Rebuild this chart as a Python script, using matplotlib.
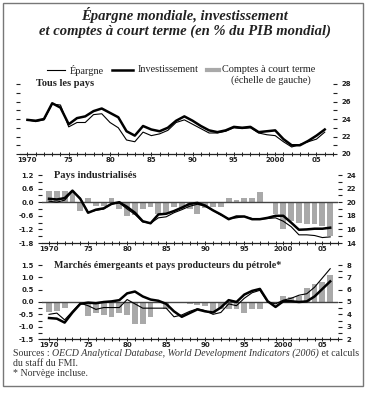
import matplotlib
matplotlib.use("Agg")
import matplotlib.pyplot as plt
from matplotlib.lines import Line2D
from matplotlib.patches import Rectangle
from matplotlib.ticker import MultipleLocator, FixedLocator
from matplotlib.font_manager import FontProperties

years = list(range(1970, 2007))

# Tous les pays (right scale, % of world GDP)
all_saving = [23.9, 23.7, 23.9, 25.7, 25.6, 23.1, 23.6, 23.6, 24.5, 24.6,
              23.6, 23.0, 21.6, 21.4, 22.5, 22.1, 22.3, 22.7, 23.6, 23.9,
              23.4, 22.9, 22.4, 22.4, 22.6, 23.0, 22.9, 23.0, 22.4, 22.2,
              22.1, 21.4, 20.8, 21.1, 21.4, 21.7, 22.5]
all_invest = [23.9, 23.8, 24.0, 25.8, 25.3, 23.4, 24.1, 24.3, 24.9, 25.2,
              24.7, 24.2, 22.6, 22.1, 23.2, 22.8, 22.6, 23.0, 23.8, 24.3,
              23.8, 23.2, 22.7, 22.5, 22.7, 23.1, 23.0, 23.1, 22.5, 22.6,
              22.7, 21.7, 21.0, 21.0, 21.5, 22.1, 22.8]

# Pays industrialisés
ind_ca = [0.5, 0.5, 0.5, 0.5, -0.4, 0.2, -0.15, -0.15, 0.2, -0.3,
          -0.6, -0.55, -0.3, -0.2, -0.5, -0.5, -0.2, -0.3, -0.3, -0.5,
          -0.25, -0.2, -0.2, 0.2, 0.1, 0.2, 0.2, 0.45, 0.0, -0.5,
          -1.2, -0.85, -0.9, -0.95, -0.95, -1.05, -1.5]
ind_saving = [20.15, 20.0, 20.3, 21.6, 20.6, 18.5, 18.8, 19.0, 19.75, 19.9,
              19.0, 18.2, 17.1, 16.9, 17.7, 17.85, 18.45, 18.9, 19.4, 19.7,
              19.4, 18.8, 18.1, 17.6, 17.7, 17.9, 17.6, 17.5, 17.6, 17.7,
              17.2, 16.4, 15.2, 15.2, 15.1, 14.8, 14.9]
ind_invest = [20.5, 20.4, 20.6, 21.7, 20.5, 18.45, 18.9, 19.1, 19.75, 20.0,
              19.3, 18.45, 17.2, 16.9, 18.2, 18.3, 18.7, 19.2, 19.75, 19.9,
              19.5, 18.8, 18.2, 17.5, 17.9, 17.9, 17.5, 17.5, 17.7, 18.0,
              18.0, 17.0, 15.95, 16.0, 16.1, 16.1, 16.25]

# Marchés émergeants et pays producteurs du pétrole
em_ca = [-0.42, -0.38, -0.23, 0.0, 0.0, -0.55, -0.45, -0.52, -0.62, -0.45,
         -0.52, -0.88, -0.88, -0.62, 0.0, -0.3, 0.0, 0.0, -0.1, -0.12,
         -0.15, -0.45, -0.3, -0.3, -0.3, -0.45, -0.3, -0.3, 0.0, 0.0,
         0.25, 0.22, 0.25, 0.55, 0.72, 0.82, 1.1]
em_saving = [4.0, 4.1, 3.55, 4.24, 4.9, 4.7, 4.4, 4.55, 4.55, 4.55,
             5.2, 4.85, 4.5, 4.5, 4.5, 4.5, 3.8, 3.95, 4.24, 4.45,
             4.3, 4.0, 4.15, 4.85, 4.7, 5.3, 5.75, 5.95, 5.0, 4.85,
             5.15, 5.3, 5.55, 5.67, 6.2, 6.95, 7.7]
em_invest = [3.7, 3.65, 3.33, 4.15, 4.85, 4.95, 4.9, 5.0, 5.05, 5.15,
             5.7, 5.85, 5.45, 5.2, 5.1, 4.85, 4.24, 3.8, 4.1, 4.4,
             4.24, 4.15, 4.55, 5.15, 5.0, 5.6, 5.9, 6.06, 5.06, 4.6,
             5.06, 5.06, 5.0, 5.05, 5.45, 6.06, 6.67]

xticks = [1970, 1975, 1980, 1985, 1990, 1995, 2000, 2005]
xticklabels = ["1970", "75", "80", "85", "90", "95", "2000", "05"]

title_lines = ["Épargne mondiale, investissement",
               "et comptes à court terme (en % du PIB mondial)"]
panel_titles = ["Tous les pays", "Pays industrialisés",
                "Marchés émergeants et pays producteurs du pétrole*"]

W, H = 370, 400
fig = plt.figure(figsize=(3.7, 4.0), dpi=100)
fig.patch.set_facecolor("white")

def fx(px):
    return px / W

def fy(py):
    return 1 - py / H

def ax_rect(l, t, r, b):
    return [fx(l), fy(b), fx(r) - fx(l), fy(t) - fy(b)]

TXT = "#222222"
BAR = "#a9a9a9"
XLIM = (1969.1, 2007.0)
tickfont = dict(family="DejaVu Sans", weight="bold", size=5)
serif = "Liberation Serif"

# border
fig.add_artist(Rectangle((fx(3), fy(386)), fx(360), (386 - 3) / H,
                         transform=fig.transFigure, fill=False,
                         edgecolor="#777777", lw=1.0))

# title
fig.text(0.5, fy(15), title_lines[0], ha="center", va="center",
         family=serif, style="italic", weight="bold", size=10.5, color=TXT)
fig.text(0.5, fy(31), title_lines[1], ha="center", va="center",
         family=serif, style="italic", weight="bold", size=10.5, color=TXT)

def style_xaxis(ax):
    ax.set_xlim(*XLIM)
    ax.set_xticks(xticks)
    ax.set_xticklabels(xticklabels)
    ax.xaxis.set_minor_locator(MultipleLocator(1))
    ax.tick_params(axis="x", which="both", direction="inout", length=2.5,
                   width=0.7, pad=1, colors=TXT)
    for lab in ax.get_xticklabels():
        lab.set_fontproperties(FontProperties(**tickfont))
    for s in ["top", "left", "right"]:
        ax.spines[s].set_visible(False)
    ax.spines["bottom"].set_linewidth(0.9)
    ax.spines["bottom"].set_color(TXT)
    ax.patch.set_alpha(0)

def style_yaxis(ax, side):
    ax.tick_params(axis="y", which="both", direction="out", length=3,
                   width=0.8, pad=3, colors=TXT, labelsize=5)
    if side == "right":
        ax.yaxis.tick_right()
    for lab in ax.get_yticklabels():
        lab.set_fontproperties(FontProperties(**tickfont))

# ---------------- Panel 1 ----------------
ax1 = fig.add_axes(ax_rect(20, 84, 333, 154))
ax1.plot(years, all_saving, color="black", lw=0.8)
ax1.plot(years, all_invest, color="black", lw=1.8)
ax1.set_ylim(20, 28)
style_xaxis(ax1)
ax1.yaxis.set_ticks_position("both")
ax1.set_yticks([20, 22, 24, 26, 28])
ax1.yaxis.set_minor_locator(MultipleLocator(1))
ax1.tick_params(axis="y", which="both", left=True, right=True,
                labelleft=False, labelright=True, direction="out",
                length=3, width=0.8, pad=3, colors=TXT)
for lab in ax1.get_yticklabels():
    lab.set_fontproperties(FontProperties(**tickfont))
ax1.text(0.05, 1.0, panel_titles[0], transform=ax1.transAxes, ha="left",
         va="center", family=serif, weight="bold", size=7.5, color=TXT)

# ---------------- Panel 2 ----------------
ax2 = fig.add_axes(ax_rect(42, 175, 338, 243))
ax2.bar(years, ind_ca, width=0.75, color=BAR, zorder=1)
ax2.axhline(0, color="#444444", lw=1.0, zorder=2)
ax2.set_ylim(-1.8, 1.2)
ax2.set_yticks([-1.8, -1.2, -0.6, 0.0, 0.6, 1.2])
ax2.set_yticklabels(["-1.8", "-1.2", "-0.6", "0.0", "0.6", "1.2"])
ax2.yaxis.set_minor_locator(FixedLocator([-1.5, -0.9, -0.3, 0.3, 0.9]))
style_xaxis(ax2)
style_yaxis(ax2, "left")
ax2r = ax2.twinx()
ax2r.plot(years, ind_saving, color="black", lw=0.8, zorder=3)
ax2r.plot(years, ind_invest, color="black", lw=1.8, zorder=3)
ax2r.set_ylim(14, 24)
ax2r.set_yticks([14, 16, 18, 20, 22, 24])
ax2r.yaxis.set_minor_locator(MultipleLocator(1))
for s in ["top", "left", "right", "bottom"]:
    ax2r.spines[s].set_visible(False)
style_yaxis(ax2r, "right")
ax2.text(0.04, 1.0, panel_titles[1], transform=ax2.transAxes, ha="left",
         va="center", family=serif, weight="bold", size=7.5, color=TXT)

# ---------------- Panel 3 ----------------
ax3 = fig.add_axes(ax_rect(42, 265, 338, 339))
ax3.bar(years, em_ca, width=0.75, color=BAR, zorder=1)
ax3.axhline(0, color="#444444", lw=1.0, zorder=2)
ax3.set_ylim(-1.5, 1.5)
ax3.set_yticks([-1.5, -1.0, -0.5, 0.0, 0.5, 1.0, 1.5])
ax3.set_yticklabels(["-1.5", "-1.0", "-0.5", "0.0", "0.5", "1.0", "1.5"])
ax3.yaxis.set_minor_locator(FixedLocator([-1.25, -0.75, -0.25]))
style_xaxis(ax3)
style_yaxis(ax3, "left")
ax3r = ax3.twinx()
ax3r.plot(years, em_saving, color="black", lw=0.8, zorder=3)
ax3r.plot(years, em_invest, color="black", lw=1.8, zorder=3)
ax3r.set_ylim(2, 8)
ax3r.set_yticks([2, 3, 4, 5, 6, 7, 8])
ax3r.yaxis.set_minor_locator(FixedLocator([2.5, 3.5, 4.5, 7.5]))
for s in ["top", "left", "right", "bottom"]:
    ax3r.spines[s].set_visible(False)
style_yaxis(ax3r, "right")
ax3.text(0.04, 1.0, panel_titles[2], transform=ax3.transAxes, ha="left",
         va="center", family=serif, weight="bold", size=7.2, color=TXT)

# ---------------- Legend ----------------
LS = 7.4
ly = fy(70)
fig.add_artist(Line2D([fx(47), fx(65)], [ly, ly], color="black", lw=0.8,
                      transform=fig.transFigure))
fig.text(fx(70), ly, "Épargne", ha="left", va="center", family=serif,
         size=LS, color=TXT)
fig.add_artist(Line2D([fx(112), fx(133)], [ly, ly], color="black", lw=1.8,
                      transform=fig.transFigure))
fig.text(fx(138), ly, "Investissement", ha="left", va="center", family=serif,
         size=LS, color=TXT)
fig.add_artist(Line2D([fx(207), fx(219)], [ly, ly], color=BAR, lw=3,
                      transform=fig.transFigure))
fig.text(fx(222), ly, "Comptes à court terme", ha="left", va="center",
         family=serif, size=LS, color=TXT)
fig.text(fx(271), fy(80), "(échelle de gauche)", ha="center", va="center",
         family=serif, size=LS, color=TXT)

# ---------------- Sources ----------------
fig.canvas.draw()
renderer = fig.canvas.get_renderer()

def run_text(x_px, y_px, parts, size=7.1):
    x = fx(x_px)
    for txt, style in parts:
        t = fig.text(x, fy(y_px), txt, ha="left", va="center", family=serif,
                     style=style, size=size, color="#333333")
        bb = t.get_window_extent(renderer=renderer)
        x += bb.width / fig.bbox.width

run_text(13, 353, [("Sources : ", "normal"),
                   ("OECD Analytical Database, World Development Indicators (2006)", "italic"),
                   (" et calculs", "normal")])
run_text(13, 363, [("du staff du FMI.", "normal")])
run_text(13, 373, [("* Norvège incluse.", "normal")])

fig.savefig("out.png", dpi=100, facecolor="white")
